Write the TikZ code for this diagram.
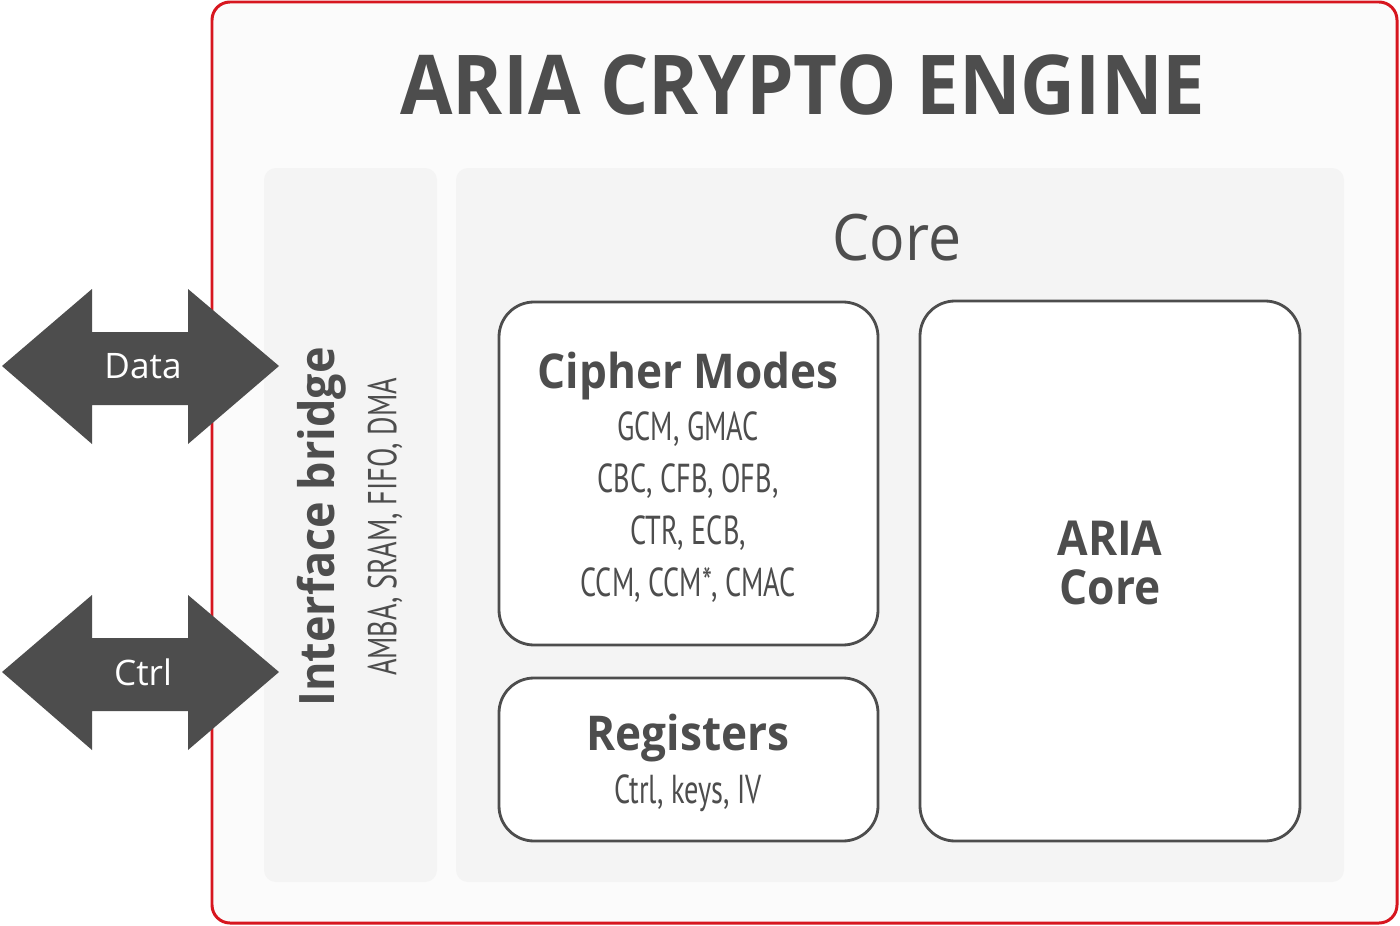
\documentclass[tikz,border=0pt]{standalone}
\usepackage{fontspec}
\setmainfont{Open Sans}
\newfontfamily\headfont[FakeStretch=0.92]{Open Sans}
\newfontfamily\narrowfont[FakeStretch=0.7]{PT Sans}
\definecolor{ariadark}{HTML}{4D4D4D}
\definecolor{ariared}{HTML}{D7161F}
\definecolor{ariapanel}{HTML}{F4F4F4}
\definecolor{ariaback}{HTML}{FBFBFB}

\begin{document}
\begin{tikzpicture}[x=0.02cm,y=-0.02cm,
	panel/.style={fill=ariapanel,rounded corners=0.24cm},
	block/.style={draw=ariadark,fill=white,line width=1.6pt,rounded corners=0.7cm},
	head/.style={text=ariadark,font=\headfont\bfseries\fontsize{27.3}{30}\selectfont},
	items/.style={text=ariadark,align=center,font=\narrowfont\fontsize{23}{29.5}\selectfont},
	arrowlab/.style={text=white,font=\fontsize{20}{22}\selectfont}]
	\useasboundingbox (0,0) rectangle (1400,926);
	\fill[white] (0,0) rectangle (1400,926);

	\draw[draw=ariared,fill=ariaback,line width=1.7pt,rounded corners=0.36cm] (212,2) rectangle (1397,923);
	\node[text=ariadark,font=\headfont\bfseries\fontsize{47}{50}\selectfont] (title) at (803,85) {ARIA CRYPTO ENGINE};

	\fill[panel] (264,168) rectangle (437,882);
	\fill[panel] (456,168) rectangle (1344,882);
	\node[text=ariadark,font=\headfont\fontsize{36.5}{40}\selectfont] (core) at (897,238) {Core};

	\node[rotate=90,text=ariadark,font=\headfont\bfseries\fontsize{27.8}{30}\selectfont] (bridge) at (322,527) {Interface bridge};
	\node[rotate=90,text=ariadark,font=\narrowfont\fontsize{23}{24}\selectfont] (bus) at (385,527) {AMBA, SRAM, FIFO, DMA};

	\draw[block] (499,302) rectangle (878,645);
	\node[head] (modes) at (688,376) {Cipher Modes};
	\node[items] (modelist) at (688,507) {GCM, GMAC\\CBC, CFB, OFB,\\CTR, ECB,\\CCM, CCM*, CMAC};

	\draw[block] (499,678) rectangle (878,841);
	\node[head] (regs) at (688,738) {Registers};
	\node[items] (reglist) at (688,793) {Ctrl, keys, IV};

	\draw[block] (920,301) rectangle (1300,841);
	\node[head,align=center,font=\headfont\bfseries\fontsize{27.4}{28}\selectfont] (ariacore) at (1110,563) {ARIA\\Core};

	\foreach \yy/\lab/\nm in {366/Data/data,672/Ctrl/ctrl}{
		\fill[ariadark] (2,\yy) -- (92,\yy-77) -- (92,\yy-34) -- (188,\yy-34) -- (188,\yy-77) -- (279,\yy) -- (188,\yy+78) -- (188,\yy+39) -- (92,\yy+39) -- (92,\yy+78) -- cycle;
		\node[arrowlab] (\nm) at (143,\yy) {\lab};
	}
\end{tikzpicture}
\end{document}
